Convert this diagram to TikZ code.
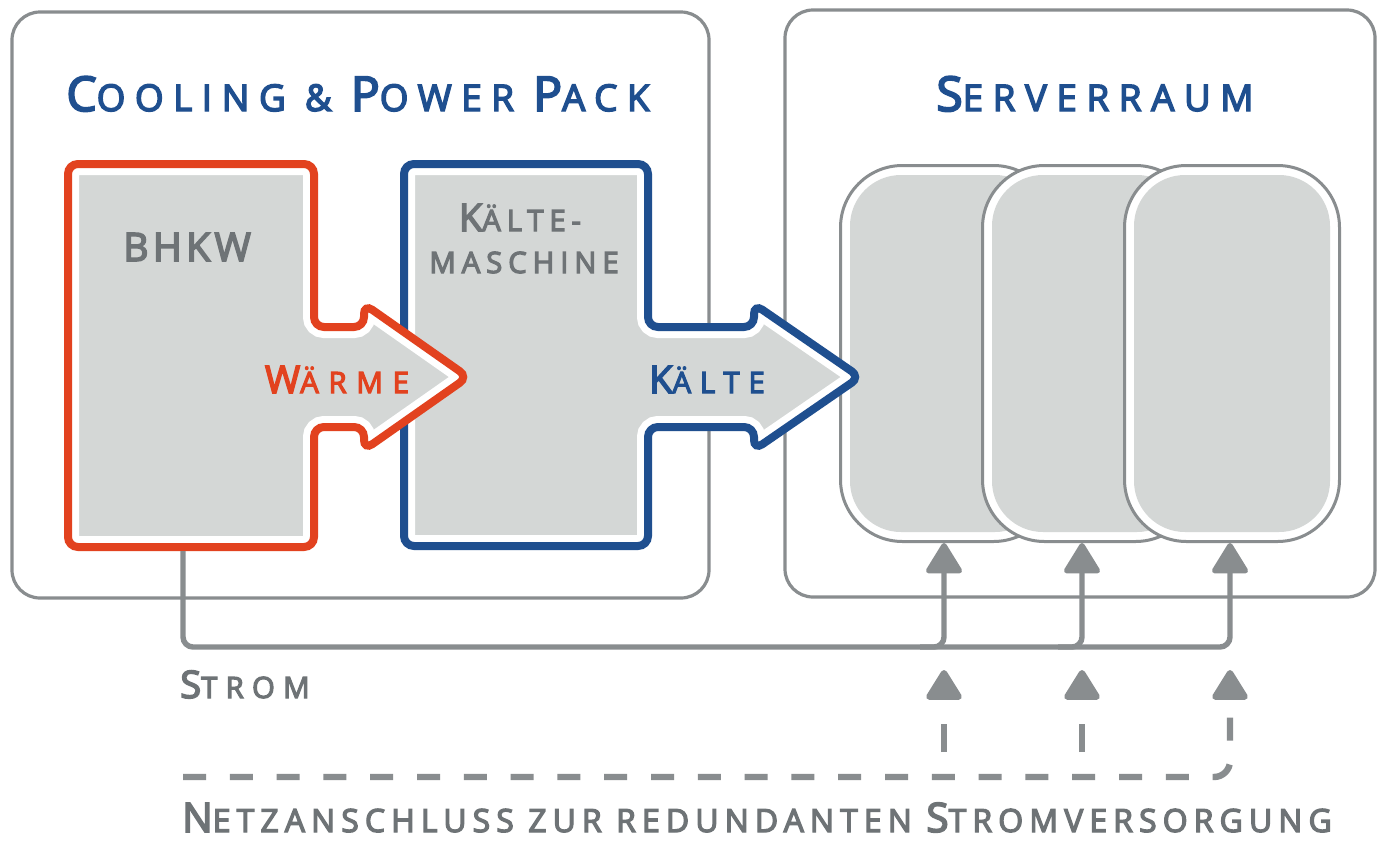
\documentclass[tikz,border=0pt]{standalone}
\usepackage{fontspec}
\setmainfont{Open Sans}
\newfontfamily\lab[FakeBold=4]{Open Sans}
\usetikzlibrary{arrows.meta}
\definecolor{cred}{HTML}{E2421F}
\definecolor{cblue}{HTML}{1F4F8F}
\definecolor{cline}{HTML}{898D8F}
\definecolor{cfill}{HTML}{D4D7D6}
\definecolor{ctext}{HTML}{6E7376}
\newcommand\bg[1]{{\fontsize{\bigsz}{\bigsz}\selectfont #1}}
\newcommand\sm[1]{{\fontsize{\smsz}{\smsz}\selectfont #1}}
\tikzset{
  outerbox/.style={draw=cline, line width=1.6pt, rounded corners=14pt},
  cabline/.style={draw=cline, line width=1.5pt, fill=white, rounded corners=31pt},
  cabin/.style={fill=cfill, rounded corners=25.5pt},
  txt/.style={inner sep=0pt, anchor=base},
  title/.style={txt, text=cblue, font={\lab\addfontfeatures{LetterSpace=#1}\def\bigsz{24pt}\def\smsz{18.4pt}\fontsize{18.4pt}{20pt}\selectfont}},
  title/.default=26,
  lblbig/.style={txt, text=ctext, font={\lab\addfontfeatures{LetterSpace=11}\def\bigsz{19.6pt}\fontsize{19.6pt}{22pt}\selectfont}},
  lbl/.style={txt, text=ctext, font={\lab\addfontfeatures{LetterSpace=#1}\def\bigsz{19pt}\def\smsz{14.7pt}\fontsize{14.7pt}{17pt}\selectfont}},
  lbl/.default=22,
  lblnet/.style={txt, text=ctext, font={\lab\addfontfeatures{LetterSpace=19}\def\bigsz{20.3pt}\def\smsz{16pt}\fontsize{16pt}{18pt}\selectfont}},
  tipg/.tip={Triangle[length=16.5pt,width=19.5pt,round]},
  strom/.style={draw=cline, line width=2.7pt, rounded corners=5pt, -{tipg}},
  dashline/.style={draw=cline, line width=3.2pt, dash pattern=on 11.5pt off 11.9pt, rounded corners=8pt, -{tipg}},
}
\begin{document}
\begin{tikzpicture}[x=0.5pt,y=-0.5pt]
\useasboundingbox (0,0) rectangle (1377,841);
\fill[white] (0,0) rectangle (1377,841);

% outer boxes
\draw[outerbox] (12,12) rectangle (709,598);
\draw[outerbox] (785,10) rectangle (1375,597);

% server cabinets
\foreach \x in {839,981,1123} {
  \draw[cabline] (\x+1.5,165.5) rectangle (\x+216.5,541.5);
  \fill[cabin] (\x+11,175) rectangle (\x+207,532);
}

% Kaeltemaschine shape
\def\kpath{(404,164) -- (648,164) -- (648,327) -- (754,327) -- (754,304) -- (860,377) -- (754,450) -- (754,427) -- (648,427) -- (648,546) -- (404,546) -- cycle}
\fill[cfill, rounded corners=5pt] \kpath;
\begin{scope}
  \clip[rounded corners=5pt] \kpath;
  \draw[white, line width=11pt, rounded corners=5pt] \kpath;
\end{scope}
\draw[cblue, line width=4pt, rounded corners=5pt] \kpath;

% BHKW shape
\def\bpath{(68,164) -- (314,164) -- (314,327) -- (364,327) -- (364,304) -- (468,377) -- (364,450) -- (364,427) -- (314,427) -- (314,547) -- (68,547) -- cycle}
\fill[cfill, rounded corners=5pt] \bpath;
\begin{scope}
  \clip[rounded corners=5pt] \bpath;
  \draw[white, line width=11pt, rounded corners=5pt] \bpath;
\end{scope}
\draw[cred, line width=4pt, rounded corners=5pt] \bpath;

% texts
\node[title] (t1) at (358,111) {\bg{C}\sm{OOLING \& }\bg{P}\sm{OWER }\bg{P}\sm{ACK}};
\node[title=26] (t2) at (1095,111) {\bg{S}\sm{ERVERRAUM}};
\node[lblbig] (bhkw) at (187,261) {\bg{BHKW}};
\node[lbl=20] (k1) at (520,231) {\bg{K}\sm{ÄLTE-}};
\node[lbl=20] (k2) at (524,273) {\sm{MASCHINE}};
\node[lbl=33, text=cred] (waerme) at (337,393) {\bg{W}\sm{ÄRME}};
\node[lbl=30, text=cblue] (kaelte) at (707,393) {\bg{K}\sm{ÄLTE}};
\node[lbl=28] (stromt) at (245,698) {\bg{S}\sm{TROM}};
\node[lblnet] (netz) at (757,832) {\bg{N}\sm{ETZANSCHLUSS ZUR REDUNDANTEN }\bg{S}\sm{TROMVERSORGUNG}};

% power connectors
\coordinate (bS) at (183,551);
\coordinate (sj) at (1230,647);
\coordinate (j1) at (920,647);
\coordinate (j2) at (1058,647);
\coordinate (c1) at (944,543);
\coordinate (c2) at (1082,543);
\coordinate (c3) at (1230,543);
\draw[strom] (bS) |- (sj) -- (c3);
\draw[strom] (j1) -| (c1);
\draw[strom] (j2) -| (c2);

% redundant supply
\coordinate (d0) at (183,777);
\coordinate (dj) at (1230,777);
\coordinate (d1) at (944,777);
\coordinate (d2) at (1082,777);
\coordinate (n1) at (944,670);
\coordinate (n2) at (1082,670);
\coordinate (n3) at (1230,670);
\draw[dashline] (d0) -- (dj) -- (n3);
\draw[dashline, dash pattern=on 0pt off 12.5pt on 14pt off 40pt] (d1) -- (n1);
\draw[dashline, dash pattern=on 0pt off 12.5pt on 14pt off 40pt] (d2) -- (n2);
\end{tikzpicture}
\end{document}
